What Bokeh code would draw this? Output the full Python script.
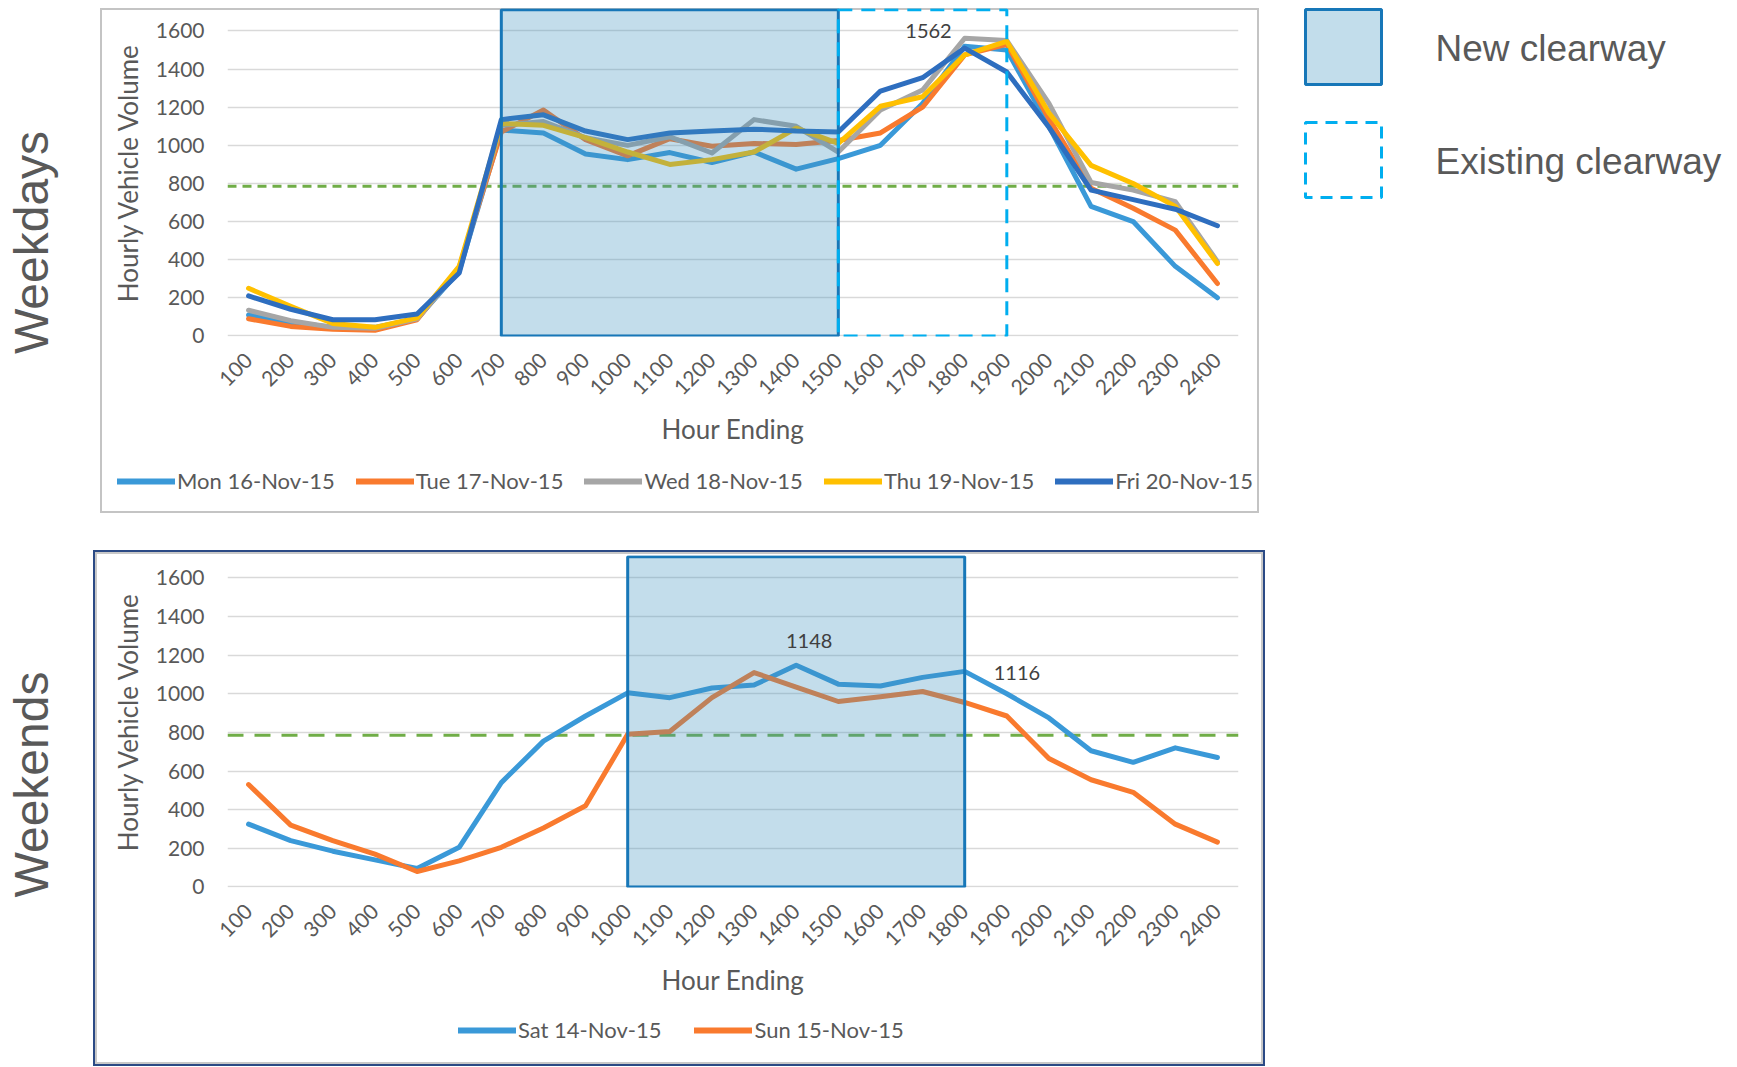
import math
from bokeh.plotting import figure
from bokeh.models import Range1d, FixedTicker, Legend, LegendItem, Spacer, Span
from bokeh.layouts import row, column
from bokeh.embed import file_html
from bokeh.resources import INLINE
from bokeh.core.properties import value

# ---------------- data ----------------
hours = [100, 200, 300, 400, 500, 600, 700, 800, 900, 1000, 1100, 1200,
         1300, 1400, 1500, 1600, 1700, 1800, 1900, 2000, 2100, 2200, 2300, 2400]
y_ticks = [0, 200, 400, 600, 800, 1000, 1200, 1400, 1600]

weekday_labels = ["Mon 16-Nov-15", "Tue 17-Nov-15", "Wed 18-Nov-15", "Thu 19-Nov-15", "Fri 20-Nov-15"]
mon = [110, 70, 45, 45, 90, 340, 1080, 1065, 955, 925, 962, 910, 965, 875, 930, 1000, 1220, 1520, 1500, 1100, 680, 600, 365, 200]
tue = [90, 50, 35, 30, 85, 360, 1070, 1185, 1030, 945, 1035, 995, 1010, 1005, 1025, 1065, 1200, 1475, 1530, 1140, 775, 670, 555, 275]
wed = [135, 80, 45, 40, 90, 350, 1105, 1125, 1040, 1000, 1045, 960, 1135, 1100, 965, 1185, 1290, 1562, 1550, 1220, 805, 765, 705, 390]
thu = [250, 155, 65, 45, 95, 365, 1115, 1105, 1040, 965, 900, 925, 965, 1090, 1010, 1205, 1255, 1475, 1545, 1170, 895, 800, 680, 380]
fri = [210, 140, 85, 85, 115, 330, 1135, 1160, 1075, 1030, 1065, 1075, 1085, 1075, 1070, 1285, 1355, 1510, 1385, 1095, 765, 715, 665, 578]

weekend_labels = ["Sat 14-Nov-15", "Sun 15-Nov-15"]
sat = [325, 240, 185, 140, 95, 205, 540, 755, 885, 1005, 980, 1030, 1045, 1148, 1050, 1040, 1085, 1116, 1000, 875, 705, 645, 720, 670]
sun = [530, 320, 240, 170, 80, 135, 205, 305, 420, 790, 805, 980, 1110, 1035, 960, 985, 1012, 955, 885, 665, 555, 490, 325, 232]

threshold = 785
new_clearway_weekdays = [700, 1500]
existing_clearway_weekdays = [1500, 1900]
new_clearway_weekends = [1000, 1800]

weekday_callouts = [(1800, 1562)]
weekend_callouts = [(1400, 1148), (1800, 1116)]

panel_titles = ["Weekdays", "Weekends"]
key_labels = ["New clearway", "Existing clearway"]

# ---------------- style ----------------
weekday_colors = ["#3A99D8", "#F97A2E", "#A6A6A6", "#FFC000", "#2E6EBF"]
weekend_colors = ["#3A99D8", "#F97A2E"]
FONT = "Lato"
GREY_TXT = "#595959"
BOX_FILL = "#3C92BF"
BOX_LINE = "#1777B8"
EXIST_LINE = "#00AEEF"
GREEN = "#70AD47"


def make_chart(width, height, mb_left, mb_right, mb_top, mb_bottom, y_end,
               series, colors, new_cw, existing_cw, green_dash):
    p = figure(width=width, height=height, output_backend="svg", toolbar_location=None,
               x_range=Range1d(50, 2450), y_range=Range1d(-3, y_end),
               min_border_left=mb_left, min_border_right=mb_right,
               min_border_top=mb_top, min_border_bottom=mb_bottom)
    p.frame_align = False
    p.background_fill_color = None
    p.border_fill_color = None
    p.outline_line_color = None

    p.xgrid.grid_line_color = None
    p.ygrid.grid_line_color = "#D9D9D9"
    p.ygrid.grid_line_width = 1.5

    p.yaxis.ticker = FixedTicker(ticks=y_ticks)
    p.xaxis.ticker = FixedTicker(ticks=hours)
    for ax in (p.xaxis[0], p.yaxis[0]):
        ax.axis_line_color = None
        ax.major_tick_line_color = None
        ax.minor_tick_line_color = None
        ax.major_label_text_font = FONT
        ax.major_label_text_font_size = "21px"
        ax.major_label_text_color = GREY_TXT
        ax.axis_label_text_font = FONT
        ax.axis_label_text_font_size = "26px"
        ax.axis_label_text_font_style = "normal"
        ax.axis_label_text_color = GREY_TXT
    p.yaxis.axis_label = "Hourly Vehicle Volume"
    p.yaxis.major_label_standoff = 17
    p.yaxis.axis_label_standoff = 9
    p.xaxis.axis_label = "Hour Ending"
    p.xaxis.major_label_orientation = math.pi / 4
    p.xaxis.major_label_standoff = 14
    p.xaxis.axis_label_standoff = 8

    p.add_layout(Span(location=threshold, dimension="width", line_color=GREEN,
                      line_width=3, line_dash=green_dash, level="underlay"))

    for vals, col in zip(series, colors):
        p.line(hours, vals, line_color=col, line_width=5,
               line_join="round", line_cap="round")

    p.quad(left=[new_cw[0]], right=[new_cw[1]], bottom=[0], top=[y_end - 6],
           fill_color=BOX_FILL, fill_alpha=0.31, line_color=BOX_LINE, line_width=3)
    if existing_cw is not None:
        p.quad(left=[existing_cw[0]], right=[existing_cw[1]], bottom=[0], top=[y_end - 6],
               fill_color=None, line_color=EXIST_LINE, line_width=3, line_dash="14 9")
    return p


def make_key(width, height, series, colors, labels, loc, spacing):
    # key strip below a chart: the legend renderers hold the series but sit
    # outside this strip's (empty) ranges, so only the legend entries show
    k = figure(width=width, height=height, output_backend="svg", toolbar_location=None,
               x_range=Range1d(0, 1), y_range=Range1d(0, 1), min_border=0,
               x_axis_type=None, y_axis_type=None)
    k.frame_align = False
    k.background_fill_color = None
    k.border_fill_color = None
    k.outline_line_color = None
    k.grid.visible = False
    items = []
    for vals, col, lab in zip(series, colors, labels):
        r = k.line(hours, vals, line_color=col, line_width=6, line_cap="round")
        items.append(LegendItem(label=lab, renderers=[r]))
    k.add_layout(Legend(items=items, orientation="horizontal", location=loc,
                        label_text_font=FONT, label_text_font_size="22px",
                        label_text_color=GREY_TXT, glyph_width=58, glyph_height=20,
                        label_standoff=2, spacing=spacing, padding=0, margin=0,
                        border_line_color=None, background_fill_alpha=0))
    return k


top = make_chart(1159, 452, 127, 21, 0, 124, 1718,
                 [mon, tue, wed, thu, fri], weekday_colors,
                 new_clearway_weekdays, existing_clearway_weekdays, "9 6")
cx, cy = zip(*weekday_callouts)
top.text(list(cx), list(cy), text=[str(v) for v in cy], text_font=value(FONT),
         text_font_size="20px", text_color="#404040", text_align="right",
         text_baseline="middle", x_offset=-13, y_offset=-7)
top_key = make_key(1159, 53, [mon, tue, wed, thu, fri], weekday_colors,
                   weekday_labels, (17, 19), 21)

bottom = make_chart(1172, 455, 134, 27, 5, 118, 1716,
                    [sat, sun], weekend_colors,
                    new_clearway_weekends, None, "16 11")
bx, by = zip(*weekend_callouts)
bottom.text([bx[0]], [by[0]], text=[str(by[0])], text_font=value(FONT),
            text_font_size="20px", text_color="#404040", text_align="center",
            text_baseline="middle", x_offset=13, y_offset=-24)
bottom.text([bx[1]], [by[1]], text=[str(by[1])], text_font=value(FONT),
            text_font_size="20px", text_color="#404040", text_align="left",
            text_baseline="middle", x_offset=29, y_offset=2)
bottom_key = make_key(1172, 61, [sat, sun], weekend_colors, weekend_labels, (365, 23), 33)

top_group = column(top, top_key,
                   styles={"background-color": "white",
                           "box-shadow": "inset 0 0 0 2px #C4C4C4"})
bottom_group = column(bottom, bottom_key,
                      styles={"background-color": "white",
                              "box-shadow": "inset 0 0 0 2px #2B4A85, inset 0 0 0 4px #C8C8C8"})

# ---------------- side panels ----------------
left = figure(width=93, height=1066, output_backend="svg", toolbar_location=None,
              x_range=Range1d(0, 93), y_range=Range1d(0, 1066), min_border=0,
              x_axis_type=None, y_axis_type=None)
left.frame_align = False
left.outline_line_color = None
left.grid.visible = False
left.text([31, 31], [824, 282], text=panel_titles, angle=math.pi / 2,
          text_align="center", text_baseline="middle", text_font=value("Liberation Sans"),
          text_font_size="48px", text_color=GREY_TXT)

right = figure(width=460, height=1066, output_backend="svg", toolbar_location=None,
               x_range=Range1d(0, 460), y_range=Range1d(0, 1066), min_border=0,
               x_axis_type=None, y_axis_type=None)
right.frame_align = False
right.outline_line_color = None
right.grid.visible = False
right.quad(left=[40], right=[116], bottom=[982], top=[1057], fill_color="#C2DDEB",
           line_color=BOX_LINE, line_width=3)
right.quad(left=[40], right=[116], bottom=[869], top=[944], fill_color=None,
           line_color=EXIST_LINE, line_width=3, line_dash="12 8")
right.text([170, 170], [1018, 905], text=key_labels,
           text_align="left", text_baseline="middle", text_font=value("Liberation Sans"),
           text_font_size="37px", text_color=GREY_TXT)

mid = column(Spacer(width=10, height=8),
             row(Spacer(width=7, height=505), top_group),
             Spacer(width=10, height=37),
             bottom_group)
layout = row(left, mid, right)

open("out.html", "w").write(file_html(layout, INLINE))
